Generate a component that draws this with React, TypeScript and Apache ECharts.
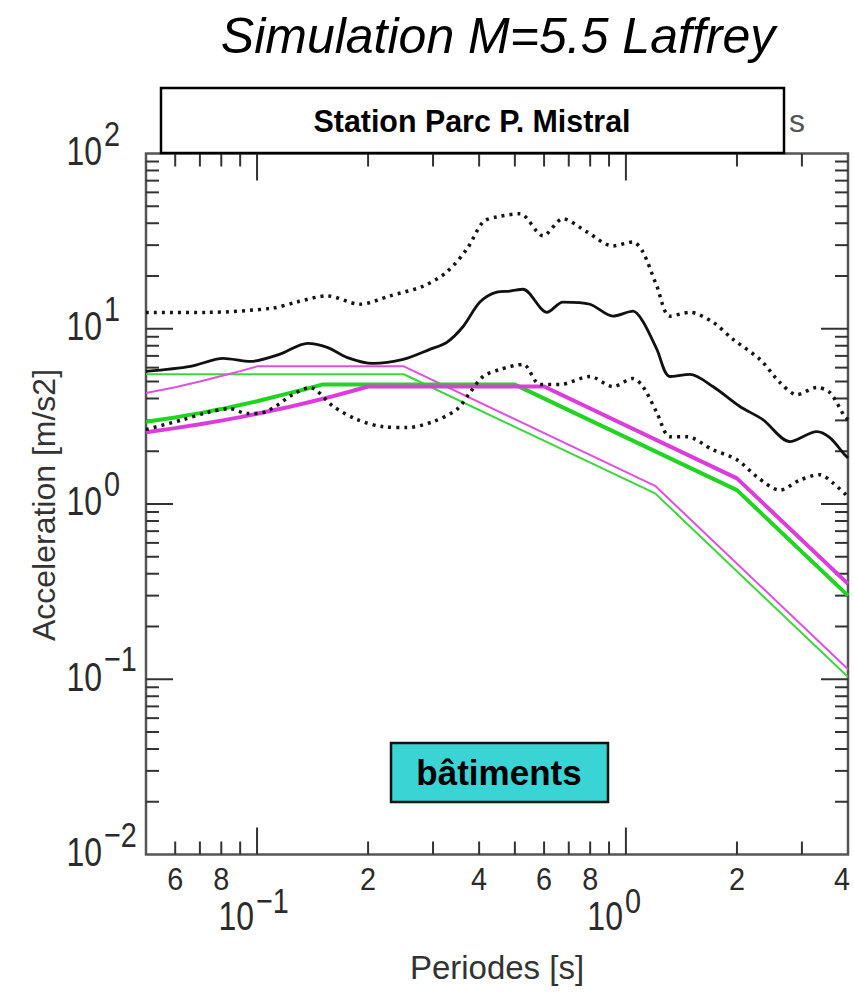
import React, { useEffect, useRef } from 'react';
import * as echarts from 'echarts';

const X_MIN = 0.05;
const X_MAX = 4;
const Y_MIN = 0.01;
const Y_MAX = 100;

// Measured mean spectrum (black solid), [period s, acceleration m/s2]
const meanSpectrum: [number, number][] = [
  [0.05, 5.71], [0.066, 6.1], [0.081, 6.78], [0.096, 6.51], [0.115, 7.14], [0.137, 8.26],
  [0.155, 7.83], [0.175, 6.87], [0.206, 6.34], [0.249, 6.69], [0.294, 7.63], [0.327, 8.37],
  [0.362, 10.3], [0.402, 14.2], [0.447, 16.2], [0.485, 16.4], [0.526, 16.8], [0.611, 12.4],
  [0.675, 14.2], [0.799, 13.8], [0.922, 11.8], [1.045, 12.6], [1.112, 11.0], [1.213, 7.63],
  [1.316, 5.34], [1.491, 5.49], [1.721, 4.68], [2.037, 3.6], [2.351, 3.03], [2.783, 2.27],
  [3.293, 2.59], [3.571, 2.39], [3.92, 1.91], [4.0, 1.83],
];

// Upper bound (black dotted)
const upperSpectrum: [number, number][] = [
  [0.05, 12.4], [0.073, 12.4], [0.11, 13.1], [0.128, 14.2], [0.155, 15.4], [0.19, 13.8],
  [0.229, 15.4], [0.282, 17.5], [0.327, 21.1], [0.371, 28.6], [0.41, 40.7], [0.447, 43.5],
  [0.516, 45.3], [0.596, 33.9], [0.675, 42.4], [0.784, 35.7], [0.922, 29.7], [1.045, 31.3],
  [1.112, 27.4], [1.213, 17.5], [1.316, 11.8], [1.491, 12.4], [1.721, 10.9], [1.95, 8.71],
  [2.307, 6.69], [2.615, 4.94], [2.907, 4.21], [3.293, 4.62], [3.571, 4.33], [3.92, 3.15],
  [4.0, 3.03],
];

// Lower bound (black dotted)
const lowerSpectrum: [number, number][] = [
  [0.05, 2.66], [0.063, 3.03], [0.073, 3.32], [0.0845, 3.5], [0.094, 3.28], [0.106, 3.37],
  [0.125, 4.21], [0.139, 4.62], [0.161, 3.6], [0.187, 3.03], [0.22, 2.76], [0.255, 2.73],
  [0.3, 2.95], [0.348, 3.46], [0.378, 4.33], [0.41, 5.34], [0.456, 5.86], [0.526, 6.26],
  [0.585, 4.81], [0.663, 4.81], [0.799, 5.34], [0.922, 4.68], [1.045, 5.2], [1.112, 4.68],
  [1.213, 3.32], [1.316, 2.42], [1.463, 2.42], [1.721, 2.04], [2.0, 1.79], [2.265, 1.43],
  [2.615, 1.2], [2.961, 1.37], [3.355, 1.47], [3.639, 1.32], [4.0, 1.1],
];

// Code spectra
const codeGreenThick: [number, number][] = [
  [0.05, 2.95], [0.06, 3.12], [0.07, 3.3], [0.08, 3.48], [0.09, 3.67], [0.1, 3.86],
  [0.12, 4.25], [0.135, 4.52], [0.15, 4.8], [0.5, 4.8], [2.0, 1.2], [4.0, 0.3],
];
const codePinkThick: [number, number][] = [
  [0.05, 2.57], [0.06, 2.71], [0.07, 2.85], [0.08, 2.99], [0.09, 3.13], [0.1, 3.27],
  [0.12, 3.55], [0.14, 3.83], [0.16, 4.11], [0.18, 4.4], [0.2, 4.68], [0.6, 4.68],
  [2.0, 1.4], [4.0, 0.35],
];
const codeGreenThin: [number, number][] = [
  [0.05, 5.5], [0.25, 5.5], [1.2, 1.15], [4.0, 0.103],
];
const codePinkThin: [number, number][] = [
  [0.05, 4.3], [0.06, 4.64], [0.07, 5.0], [0.08, 5.37], [0.09, 5.73], [0.1, 6.1],
  [0.25, 6.1], [1.2, 1.27], [4.0, 0.114],
];

// Ticks
const xMajorTicks = [0.1, 1];
const xMinorTicks = [0.06, 0.07, 0.08, 0.09, 0.2, 0.3, 0.4, 0.5, 0.6, 0.7, 0.8, 0.9, 2, 3];
const yMajorTicks = [0.1, 1, 10];
const yMinorTicks = [
  0.02, 0.03, 0.04, 0.05, 0.06, 0.07, 0.08, 0.09,
  0.2, 0.3, 0.4, 0.5, 0.6, 0.7, 0.8, 0.9,
  2, 3, 4, 5, 6, 7, 8, 9,
  20, 30, 40, 50, 60, 70, 80, 90,
];
const xDigitValues = [0.06, 0.08, 0.2, 0.4, 0.6, 0.8, 2, 4];
const xDigitTexts = ['6', '8', '2', '4', '6', '8', '2', '4'];
const xDecadeValues = [0.1, 1];
const xDecadeExps = ['\u22121', '0'];
const yDecadeValues = [0.01, 0.1, 1, 10, 100];
const yDecadeExps = ['\u22122', '\u22121', '0', '1', '2'];

const LABEL_FONT = '"Liberation Sans", Arial, sans-serif';
const LABEL_COLOR = '#2b2b2b';
const TICK_COLOR = '#333';

function xTickSeries(values: number[], len: number) {
  return {
    type: 'custom',
    coordinateSystem: 'cartesian2d',
    silent: true,
    z: 4,
    data: values.map((v) => [v, Y_MIN]),
    renderItem: (params: any, api: any) => {
      const v = api.value(0);
      const b = api.coord([v, Y_MIN]);
      const t = api.coord([v, Y_MAX]);
      const st = { stroke: TICK_COLOR, lineWidth: 2 };
      return {
        type: 'group',
        children: [
          { type: 'line', shape: { x1: b[0], y1: b[1], x2: b[0], y2: b[1] - len }, style: st },
          { type: 'line', shape: { x1: t[0], y1: t[1], x2: t[0], y2: t[1] + len }, style: st },
        ],
      };
    },
  };
}

function yTickSeries(values: number[], len: number) {
  return {
    type: 'custom',
    coordinateSystem: 'cartesian2d',
    silent: true,
    z: 4,
    data: values.map((v) => [X_MIN, v]),
    renderItem: (params: any, api: any) => {
      const v = api.value(1);
      const l = api.coord([X_MIN, v]);
      const r = api.coord([X_MAX, v]);
      const st = { stroke: TICK_COLOR, lineWidth: 2 };
      return {
        type: 'group',
        children: [
          { type: 'line', shape: { x1: l[0], y1: l[1], x2: l[0] + len, y2: l[1] }, style: st },
          { type: 'line', shape: { x1: r[0], y1: r[1], x2: r[0] - len, y2: r[1] }, style: st },
        ],
      };
    },
  };
}

function lineSeries(data: [number, number][], color: string, width: number, dashed: boolean, smooth: number, z: number) {
  return {
    type: 'line',
    data,
    showSymbol: false,
    symbol: 'none',
    smooth,
    z,
    silent: true,
    lineStyle: {
      color,
      width,
      type: dashed ? [3, 5] : 'solid',
      cap: 'butt',
    },
  };
}

export default function App() {
  const ref = useRef<HTMLDivElement>(null);

  useEffect(() => {
    if (!ref.current) return;
    const chart = echarts.init(ref.current, null, { renderer: 'svg' });

    const option: any = {
      animation: false,
      backgroundColor: '#ffffff',
      grid: {
        left: 146,
        right: 6,
        top: 153.5,
        bottom: 141.5,
        show: true,
        borderColor: '#555',
        borderWidth: 2.5,
        backgroundColor: 'transparent',
      },
      xAxis: {
        type: 'log',
        logBase: 10,
        min: X_MIN,
        max: X_MAX,
        axisLine: { show: false },
        axisTick: { show: false },
        axisLabel: { show: false },
        splitLine: { show: false },
      },
      yAxis: {
        type: 'log',
        logBase: 10,
        min: Y_MIN,
        max: Y_MAX,
        axisLine: { show: false },
        axisTick: { show: false },
        axisLabel: { show: false },
        splitLine: { show: false },
      },
      series: [
        xTickSeries(xMajorTicks, 27),
        xTickSeries(xMinorTicks, 13),
        yTickSeries(yMajorTicks, 27),
        yTickSeries(yMinorTicks, 13),
        {
          type: 'custom',
          coordinateSystem: 'cartesian2d',
          silent: true,
          z: 4,
          data: xDigitValues.map((v) => [v, Y_MIN]),
          renderItem: (params: any, api: any) => {
            const p = api.coord([api.value(0), Y_MIN]);
            const isLast = params.dataIndex === xDigitValues.length - 1;
            return {
              type: 'text',
              x: isLast ? p[0] - 6 : p[0],
              y: p[1] + 24,
              scaleX: 0.9,
              style: {
                text: xDigitTexts[params.dataIndex],
                x: 0,
                y: 0,
                align: 'center',
                verticalAlign: 'middle',
                fontSize: 32,
                fontFamily: LABEL_FONT,
                fill: LABEL_COLOR,
              },
            };
          },
        },
        {
          type: 'custom',
          coordinateSystem: 'cartesian2d',
          silent: true,
          z: 4,
          data: xDecadeValues.map((v) => [v, Y_MIN]),
          renderItem: (params: any, api: any) => {
            const p = api.coord([api.value(0), Y_MIN]);
            return {
              type: 'group',
              children: [
                {
                  type: 'text',
                  x: p[0] - 3,
                  y: p[1] + 62,
                  scaleX: 0.78,
                  style: {
                    text: '10', x: 0, y: 0, align: 'right', verticalAlign: 'middle',
                    fontSize: 41, fontFamily: LABEL_FONT, fill: LABEL_COLOR,
                  },
                },
                {
                  type: 'text',
                  x: p[0] - 1,
                  y: p[1] + 46,
                  scaleX: 0.8,
                  style: {
                    text: xDecadeExps[params.dataIndex], x: 0, y: 0, align: 'left', verticalAlign: 'middle',
                    fontSize: 36, fontFamily: LABEL_FONT, fill: LABEL_COLOR,
                  },
                },
              ],
            };
          },
        },
        {
          type: 'custom',
          coordinateSystem: 'cartesian2d',
          silent: true,
          z: 4,
          data: yDecadeValues.map((v) => [X_MIN, v]),
          renderItem: (params: any, api: any) => {
            const p = api.coord([X_MIN, api.value(1)]);
            return {
              type: 'group',
              children: [
                {
                  type: 'text',
                  x: p[0] - 44,
                  y: p[1] - 2.5,
                  scaleX: 0.78,
                  style: {
                    text: '10', x: 0, y: 0, align: 'right', verticalAlign: 'middle',
                    fontSize: 41, fontFamily: LABEL_FONT, fill: LABEL_COLOR,
                  },
                },
                {
                  type: 'text',
                  x: p[0] - 42,
                  y: p[1] - 20.5,
                  scaleX: 0.8,
                  style: {
                    text: yDecadeExps[params.dataIndex], x: 0, y: 0, align: 'left', verticalAlign: 'middle',
                    fontSize: 36, fontFamily: LABEL_FONT, fill: LABEL_COLOR,
                  },
                },
              ],
            };
          },
        },
        lineSeries(codeGreenThin, '#3ed63e', 2, false, 0, 10),
        lineSeries(codePinkThin, '#e050e0', 2, false, 0, 11),
        lineSeries(codeGreenThick, '#22d422', 4, false, 0, 12),
        lineSeries(codePinkThick, '#dd3cdd', 4, false, 0, 13),
        lineSeries(upperSpectrum, '#151515', 3.5, true, 0.3, 14),
        lineSeries(lowerSpectrum, '#151515', 3.5, true, 0.3, 15),
        lineSeries(meanSpectrum, '#111111', 2.8, false, 0.3, 16),
      ],
      graphic: [
        {
          type: 'text',
          z: 100,
          x: 498,
          y: 36,
          style: {
            text: 'Simulation M=5.5 Laffrey',
            align: 'center',
            verticalAlign: 'middle',
            fontSize: 50,
            fontStyle: 'italic',
            fontFamily: '"Liberation Sans", Arial, sans-serif',
            fill: '#000',
          },
        },
        {
          type: 'text',
          z: 99,
          x: 789,
          y: 121,
          style: {
            text: 's',
            align: 'left',
            verticalAlign: 'middle',
            fontSize: 32,
            fontFamily: LABEL_FONT,
            fill: '#555',
          },
        },
        {
          type: 'rect',
          z: 100,
          shape: { x: 161, y: 88, width: 623, height: 65 },
          style: { fill: '#ffffff', stroke: '#000', lineWidth: 2.5 },
        },
        {
          type: 'text',
          z: 101,
          x: 472,
          y: 121,
          scaleX: 0.95,
          style: {
            text: 'Station Parc P. Mistral',
            align: 'center',
            verticalAlign: 'middle',
            fontSize: 32,
            fontWeight: 'bold',
            fontFamily: '"Liberation Sans", Arial, sans-serif',
            fill: '#000',
          },
        },
        {
          type: 'rect',
          z: 100,
          shape: { x: 391, y: 743, width: 217, height: 59 },
          style: { fill: '#3ad4d4', stroke: '#111', lineWidth: 2.5 },
        },
        {
          type: 'text',
          z: 101,
          x: 499,
          y: 772,
          style: {
            text: 'bâtiments',
            align: 'center',
            verticalAlign: 'middle',
            fontSize: 35,
            fontWeight: 'bold',
            fontFamily: '"Liberation Sans", Arial, sans-serif',
            fill: '#000',
          },
        },
        {
          type: 'text',
          z: 100,
          x: 44,
          y: 505,
          rotation: Math.PI / 2,
          style: {
            text: 'Acceleration [m/s2]',
            align: 'center',
            verticalAlign: 'middle',
            fontSize: 32,
            fontFamily: LABEL_FONT,
            fill: '#333',
          },
        },
        {
          type: 'text',
          z: 100,
          x: 497,
          y: 967,
          style: {
            text: 'Periodes [s]',
            align: 'center',
            verticalAlign: 'middle',
            fontSize: 33,
            fontFamily: LABEL_FONT,
            fill: '#333',
          },
        },
      ],
    };

    chart.setOption(option);
    return () => {
      chart.dispose();
    };
  }, []);

  return (
    <div
      ref={ref}
      style={{ position: 'absolute', left: 0, top: 0, width: 854, height: 996, background: '#fff' }}
    />
  );
}
